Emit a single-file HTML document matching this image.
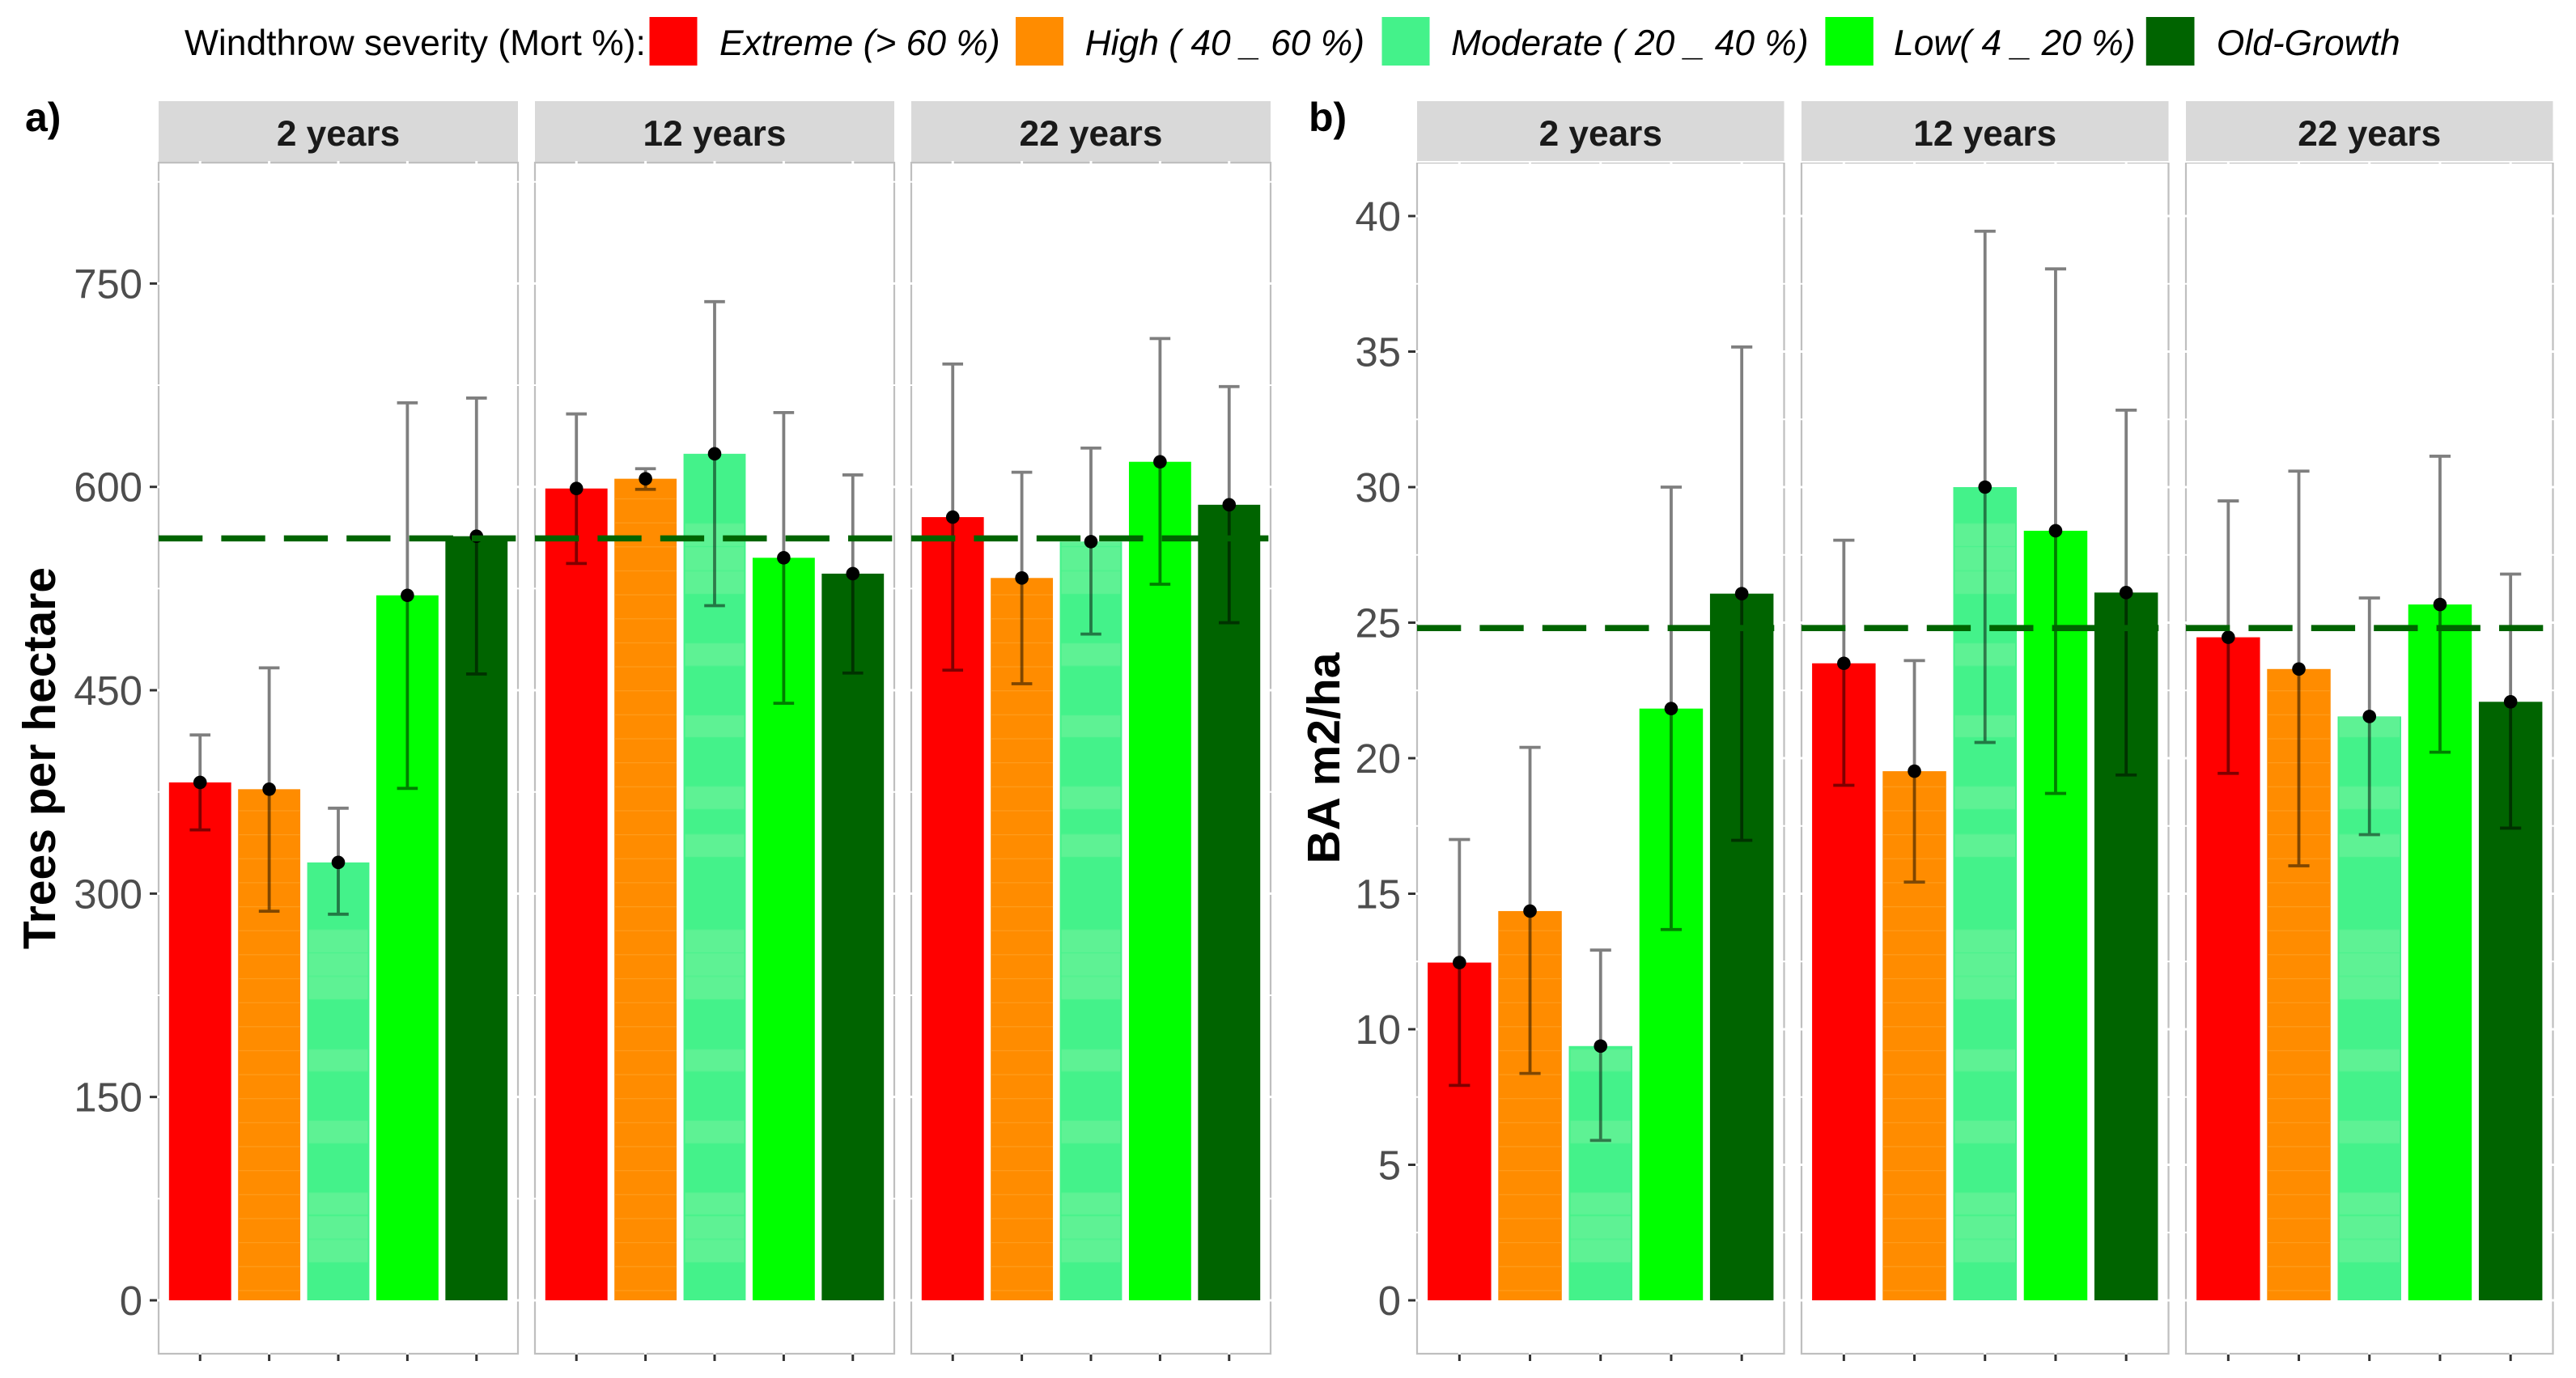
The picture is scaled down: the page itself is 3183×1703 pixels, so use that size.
<!DOCTYPE html>
<html lang="en">
<head>
<meta charset="utf-8">
<title>Windthrow severity: trees per hectare and basal area</title>
<style>
  html, body { margin: 0; padding: 0; background: #ffffff; }
  body { width: 3183px; height: 1703px; overflow: hidden; }
  svg { display: block; font-family: "Liberation Sans", Arial, sans-serif; }
</style>
</head>
<body>
<svg id="chart" xmlns="http://www.w3.org/2000/svg" width="3183" height="1703" viewBox="0 0 3183 1703">
  <defs>
    <pattern id="moderate-texture" patternUnits="userSpaceOnUse" x="0" y="0" width="3183" height="1703">
      <g fill="#5ef294">
        <rect x="0" y="647" width="3183" height="28"/>
        <rect x="0" y="676" width="3183" height="29"/>
        <rect x="0" y="706" width="3183" height="28"/>
        <rect x="0" y="795" width="3183" height="28"/>
        <rect x="0" y="884" width="3183" height="27"/>
        <rect x="0" y="972" width="3183" height="28"/>
        <rect x="0" y="1031" width="3183" height="28"/>
        <rect x="0" y="1149" width="3183" height="28"/>
        <rect x="0" y="1178" width="3183" height="28"/>
        <rect x="0" y="1207" width="3183" height="28"/>
        <rect x="0" y="1297" width="3183" height="27"/>
        <rect x="0" y="1385" width="3183" height="28"/>
        <rect x="0" y="1474" width="3183" height="27"/>
        <rect x="0" y="1503" width="3183" height="28"/>
        <rect x="0" y="1532" width="3183" height="28"/>
      </g>
    </pattern>
    <pattern id="orange-texture" patternUnits="userSpaceOnUse" x="0" y="22.9" width="100" height="29.65">
      <rect x="0" y="0" width="100" height="1.2" fill="#ff9c1c"/>
    </pattern>
  </defs>

  <rect x="0" y="0" width="3183" height="1703" fill="#ffffff"/>

  <g id="legend" font-size="44.4" fill="#000000">
    <text x="228" y="68">Windthrow severity (Mort %):</text>
    <g>
      <rect x="802.5" y="21" width="59" height="60" fill="#ff0000"/>
      <text x="889" y="68" font-style="italic">Extreme (&gt; 60 %)</text>
    </g>
    <g>
      <rect x="1255" y="21" width="59" height="60" fill="#ff8c00"/>
      <text x="1340.6" y="68" font-style="italic">High ( 40 _ 60 %)</text>
    </g>
    <g>
      <rect x="1707.5" y="21" width="59" height="60" fill="#44f28a"/>
      <text x="1793" y="68" font-style="italic">Moderate ( 20 _ 40 %)</text>
    </g>
    <g>
      <rect x="2255.4" y="21" width="59.4" height="60" fill="#00ff00"/>
      <text x="2340" y="68" font-style="italic">Low( 4 _ 20 %)</text>
    </g>
    <g>
      <rect x="2651.8" y="21" width="59.7" height="60" fill="#006400"/>
      <text x="2738.8" y="68" font-style="italic">Old-Growth</text>
    </g>
  </g>

  <text x="31" y="162" font-size="50" font-weight="bold" fill="#000000">a)</text>
  <text x="1617" y="162" font-size="50" font-weight="bold" fill="#000000">b)</text>
  <text transform="translate(68,937) rotate(-90)" text-anchor="middle" font-size="57" font-weight="bold" fill="#000000">Trees per hectare</text>
  <text transform="translate(1655,937) rotate(-90)" text-anchor="middle" font-size="57" font-weight="bold" fill="#000000">BA m2/ha</text>

  <g id="plots"></g>
</svg>

<script>
// ---- Shared categories ----
const categories = ["Extreme", "High", "Moderate", "Low", "Old-Growth"];
const panelTitles = ["2 years", "12 years", "22 years"];

// ---- Trees per hectare (panel a) ----
const treesTicks = [0, 150, 300, 450, 600, 750];
const treesMinorTicks = [75, 225, 375, 525, 675, 825];
const treesReference = 562;
const treesMean2 = [382, 377, 323, 520, 563.6];
const treesUpper2 = [417, 466.5, 363, 662, 665.5];
const treesLower2 = [347, 287, 284.8, 377.6, 462];
const treesMean12 = [598.8, 606, 624.4, 547.7, 536];
const treesUpper12 = [653.8, 613.4, 736.6, 654.8, 608.8];
const treesLower12 = [543.5, 598.2, 512.4, 440.4, 462.7];
const treesMean22 = [577.7, 532.8, 559.6, 618.5, 586.8];
const treesUpper22 = [690.6, 610.8, 628.6, 709.4, 674];
const treesLower22 = [464.8, 454.8, 491.4, 528.2, 499.8];

// ---- Basal area (panel b) ----
const basalTicks = [0, 5, 10, 15, 20, 25, 30, 35, 40];
const basalMinorTicks = [2.5, 7.5, 12.5, 17.5, 22.5, 27.5, 32.5, 37.5, 42];
const basalReference = 24.8;
const basalMean2 = [12.46, 14.36, 9.38, 21.83, 26.07];
const basalUpper2 = [17.0, 20.4, 12.92, 30.0, 35.17];
const basalLower2 = [7.93, 8.37, 5.9, 13.68, 16.97];
const basalMean12 = [23.5, 19.52, 30.0, 28.39, 26.11];
const basalUpper12 = [28.04, 23.6, 39.44, 38.05, 32.84];
const basalLower12 = [19.0, 15.43, 20.58, 18.7, 19.38];
const basalMean22 = [24.46, 23.29, 21.54, 25.67, 22.08];
const basalUpper22 = [29.49, 30.59, 25.91, 31.14, 26.79];
const basalLower22 = [19.44, 16.03, 17.18, 20.22, 17.42];

const NS = "http://www.w3.org/2000/svg";
const plots = document.getElementById("plots");
const PANEL_TOP = 201;
const PANEL_BOTTOM = 1673;
const STRIP_TOP = 125;
const ZERO_Y = 1607;
const BORDER = "#bfbfbf";

function make(tag, attrs, parent) {
  const el = document.createElementNS(NS, tag);
  for (const key in attrs) el.setAttribute(key, attrs[key]);
  parent.appendChild(el);
  return el;
}
function colorFor(i) {
  if (i === 0) return "#ff0000";
  if (i === 1) return "#ff8c00";
  if (i === 2) return "#44f28a";
  if (i === 3) return "#00ff00";
  return "#006400";
}
function slug(text) {
  return text.toLowerCase().replace(/[^a-z0-9]+/g, "-");
}

function drawYAxis(prefix, ticks, yScale, axisRight) {
  const group = make("g", {}, plots);
  
  
  ticks.forEach(function (value) {
    const y = yScale(value);
    const tick = make("line", { x1: axisRight - 11, x2: axisRight, y1: y, y2: y, stroke: "#333333", "stroke-width": 3 }, group);
    
    
    const label = make("text", { x: axisRight - 20, y: y + 18, "text-anchor": "end", "font-size": 50.8, fill: "#4d4d4d" }, group);
    label.textContent = String(value);
    
    
  });
}

function drawPanel(prefix, index, left, width, ticks, minorTicks, reference, means, uppers, lowers, yScale) {
  const right = left + width;
  const step = width / 5.2;
  const xScale = function (i) { return left + (0.6 + i) * step; };
  const barWidth = step * 0.9;
  const capHalf = step * 0.15;
  const name = prefix + "-" + slug(panelTitles[index]);

  const panel = make("g", {}, plots);
  
  

  const strip = make("rect", { x: left, y: STRIP_TOP, width: width, height: PANEL_TOP - STRIP_TOP + 1, fill: "#d9d9d9" }, panel);
  
  

  const title = make("text", { x: left + width / 2, y: 180, "text-anchor": "middle", "font-size": 44.2, "font-weight": "bold", fill: "#1a1a1a" }, panel);
  title.textContent = panelTitles[index];
  
  

  const border = make("rect", { x: left, y: PANEL_TOP, width: width, height: PANEL_BOTTOM - PANEL_TOP, fill: "#ffffff", stroke: BORDER, "stroke-width": 2.2 }, panel);
  
  

  ticks.forEach(function (value) {
    const g = make("line", { x1: left - 2, x2: right + 2, y1: yScale(value), y2: yScale(value), stroke: "#ffffff", "stroke-width": 3 }, panel);
    
    
  });
  minorTicks.forEach(function (value) {
    const g = make("line", { x1: left - 2, x2: right + 2, y1: yScale(value), y2: yScale(value), stroke: "#ffffff", "stroke-width": 2 }, panel);
    
    
  });

  categories.forEach(function (cat, i) {
    const cx = xScale(i);
    const g = make("line", { x1: cx, x2: cx, y1: PANEL_TOP - 2, y2: PANEL_BOTTOM + 2, stroke: "#ffffff", "stroke-width": 3 }, panel);
    
    
    const t = make("line", { x1: cx, x2: cx, y1: PANEL_BOTTOM + 1, y2: PANEL_BOTTOM + 9, stroke: "#333333", "stroke-width": 3 }, panel);
    
    
  });

  categories.forEach(function (cat, i) {
    const cx = xScale(i);
    const top = yScale(means[i]);
    const height = ZERO_Y - top;
    const bar = make("rect", { x: cx - barWidth / 2, y: top, width: barWidth, height: height, fill: colorFor(i) }, panel);
    
    
    if (i === 1 || i === 2) {
      const inset = i === 2 ? 2 : 0;
      const texture = make("rect", {
        x: cx - barWidth / 2 + inset,
        y: top,
        width: barWidth - 2 * inset,
        height: height,
        fill: i === 2 ? "url(#moderate-texture)" : "url(#orange-texture)"
      }, panel);
      
      
    }
  });

  categories.forEach(function (cat, i) {
    const cx = xScale(i);
    const yU = yScale(uppers[i]);
    const yL = yScale(lowers[i]);
    const d = "M" + (cx - capHalf) + " " + yU + "H" + (cx + capHalf) +
              "M" + cx + " " + yU + "V" + yL +
              "M" + (cx - capHalf) + " " + yL + "H" + (cx + capHalf);
    const err = make("path", { d: d, fill: "none", stroke: "#000000", "stroke-opacity": 0.5, "stroke-width": 3.8 }, panel);
    
    
  });

  categories.forEach(function (cat, i) {
    const pt = make("circle", { cx: xScale(i), cy: yScale(means[i]), r: 8.3, fill: "#000000" }, panel);
    
    
  });

  const refY = yScale(reference);
  const ref = make("line", { x1: left, x2: right, y1: refY, y2: refY, stroke: "#006400", "stroke-width": 7.6, "stroke-dasharray": "54.3 23.1" }, panel);
  
  
}

const treesY = function (v) { return ZERO_Y - v * 1.6755; };
const basalY = function (v) { return ZERO_Y - v * 33.5; };

drawYAxis("trees", treesTicks, treesY, 196);
drawPanel("trees", 0, 196, 444, treesTicks, treesMinorTicks, treesReference, treesMean2, treesUpper2, treesLower2, treesY);
drawPanel("trees", 1, 196 + 465, 444, treesTicks, treesMinorTicks, treesReference, treesMean12, treesUpper12, treesLower12, treesY);
drawPanel("trees", 2, 196 + 930, 444, treesTicks, treesMinorTicks, treesReference, treesMean22, treesUpper22, treesLower22, treesY);

drawYAxis("basal", basalTicks, basalY, 1751);
drawPanel("basal", 0, 1751, 453.5, basalTicks, basalMinorTicks, basalReference, basalMean2, basalUpper2, basalLower2, basalY);
drawPanel("basal", 1, 1751 + 475, 453.5, basalTicks, basalMinorTicks, basalReference, basalMean12, basalUpper12, basalLower12, basalY);
drawPanel("basal", 2, 1751 + 950, 453.5, basalTicks, basalMinorTicks, basalReference, basalMean22, basalUpper22, basalLower22, basalY);
</script>
</body>
</html>
